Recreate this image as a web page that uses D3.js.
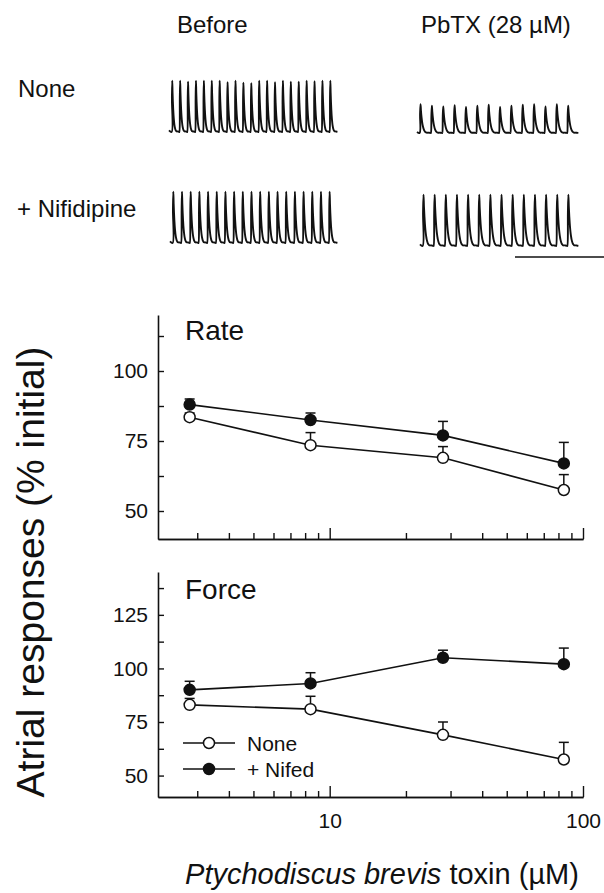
<!DOCTYPE html>
<html>
<head>
<meta charset="utf-8">
<script src="https://cdn.jsdelivr.net/npm/d3@7"></script>
<style>
  body { margin: 0; background: #fff; }
  svg text { font-family: "Liberation Sans", Arial, Helvetica, sans-serif; fill: #111; }
</style>
</head>
<body>
<script>
// concentrations (uM) and responses (% initial)
const conc = [2.8, 8.4, 28, 84];
const rateNone = [83.5, 73.5, 69, 57.5];
const rateNoneErr = [1.5, 4.5, 4, 5.5];
const rateNifed = [88, 82.5, 77, 67];
const rateNifedErr = [2, 2.5, 5, 7.5];
const forceNone = [83, 81, 69, 57.5];
const forceNoneErr = [3, 6, 6, 8];
const forceNifed = [90, 93, 105, 102];
const forceNifedErr = [4, 5, 3.5, 7.5];

const rateTickLabels = [50, 75, 100];
const forceTickLabels = [50, 75, 100, 125];
const xMajor = [10, 100];
const xMinor = [3, 4, 5, 6, 7, 8, 9, 20, 30, 40, 50, 60, 70, 80, 90];

// recorded traces: relative peak height of each beat
const traceNoneBefore = [1, 1, .98, 1, 1, 1, 1, .97, 1, .96, .95, 1, 1, .97, 1, .98, .98, 1, .99, 1, 1];
const traceNonePbtx = [.95, .9, .88, .92, .86, .9, .93, .86, .9, .93, .95, .88, .95, .9];
const traceNifBefore = [1, 1, 1, 1, 1, 1, 1, 1, 1, 1, 1, 1, 1, 1, 1, 1, 1, 1, 1];
const traceNifPbtx = [1, 1, 1, 1, 1, 1, 1, 1, 1, 1, 1, 1, 1, 1];

const width = 604, height = 893;
const svg = d3.select("body").append("svg")
  .attr("width", width)
  .attr("height", height);

// ---- top: traces
svg.append("text").attr("x", 177).attr("y", 33).style("font-size", "24px").text("Before");
svg.append("text").attr("x", 421).attr("y", 33).style("font-size", "24px").text("PbTX (28 µM)");
svg.append("text").attr("x", 18).attr("y", 97).style("font-size", "24px").text("None");
svg.append("text").attr("x", 17).attr("y", 217).style("font-size", "24px").text("+ Nifidipine");

function drawTrace(peaks, x0, x1, base, top) {
  const n = peaks.length;
  const tx = d3.scaleLinear().domain([0, n]).range([x0, x1]);
  const ty = d3.scaleLinear().domain([0, 1]).range([base, top]);
  const pts = [[tx(0) - 2, ty(0.03)]];
  peaks.forEach((p, i) => {
    // beat shape: fast upstroke, decay, rounded foot
    const steps = 24;
    for (let k = 0; k <= steps; k++) {
      const u = k / steps;
      let v;
      if (u < 0.07) v = p * (u / 0.07);
      else v = p * Math.exp(-(u - 0.07) / 0.16) - 0.03 * Math.sin(Math.PI * Math.min(1, (u - 0.07) / 0.7));
      pts.push([tx(i + u * 0.98) + 0.6, ty(v)]);
    }
  });
  svg.append("path")
    .attr("d", d3.line().curve(d3.curveCatmullRom)(pts))
    .attr("fill", "none")
    .attr("stroke", "#111")
    .attr("stroke-width", 1.9);
}

drawTrace(traceNoneBefore, 171, 337, 132, 76);
drawTrace(traceNonePbtx, 419, 578, 133, 100);
drawTrace(traceNifBefore, 172, 337, 243, 187);
drawTrace(traceNifPbtx, 422, 578, 246, 190);

svg.append("line").attr("x1", 515).attr("x2", 604).attr("y1", 257).attr("y2", 257)
  .attr("stroke", "#111").attr("stroke-width", 1.5);

// ---- plots
const x = d3.scaleLog().domain([2.1, 100]).range([158, 583]);

function yMinor(lo, hi) {
  const t = [];
  for (let v = lo; v <= hi; v += 12.5) t.push(v);
  return t;
}

function panel(opts) {
  const y = d3.scaleLinear().domain(opts.domain).range(opts.range);
  const g = svg.append("g");
  const bottom = opts.range[0];

  // y axis
  g.append("g")
    .attr("transform", "translate(158,0)")
    .call(d3.axisLeft(y)
      .tickValues(yMinor(50, opts.domain[1] - 5))
      .tickSize(-6).tickSizeOuter(0).tickPadding(10)
      .tickFormat(d => opts.labels.includes(d) ? d : ""))
    .call(a => a.selectAll("text").style("font-size", "21px").attr("fill", "#111"));

  // x axis minor + major
  g.append("g")
    .attr("transform", `translate(0,${bottom})`)
    .call(d3.axisBottom(x).tickValues(xMinor).tickSize(-6).tickSizeOuter(0).tickFormat(""));
  g.append("g")
    .attr("transform", `translate(0,${bottom})`)
    .call(d3.axisBottom(x).tickValues(xMajor).tickSize(-11).tickSizeOuter(0).tickPadding(16)
      .tickFormat(d => opts.xLabels ? d : ""))
    .call(a => a.selectAll("text").style("font-size", "21px").attr("fill", "#111"));

  g.selectAll(".domain").attr("stroke", "#111").attr("stroke-width", 1.6);
  g.selectAll(".tick line").attr("stroke", "#111").attr("stroke-width", 1.4);

  g.append("text").attr("x", 185).attr("y", opts.titleY)
    .style("font-size", "28px").text(opts.title);

  const line = d3.line().x((d, i) => x(conc[i])).y(d => y(d));
  const series = [
    { v: opts.none, e: opts.noneErr, fill: "#fff" },
    { v: opts.nifed, e: opts.nifedErr, fill: "#111" }
  ];
  series.forEach(s => {
    g.append("path").attr("d", line(s.v))
      .attr("fill", "none").attr("stroke", "#111").attr("stroke-width", 1.6);
  });
  series.forEach(s => {
    const eb = g.append("g").attr("stroke", "#111").attr("stroke-width", 1.5);
    s.v.forEach((v, i) => {
      const cx = x(conc[i]), top = y(v + s.e[i]);
      eb.append("line").attr("x1", cx).attr("x2", cx).attr("y1", y(v)).attr("y2", top);
      eb.append("line").attr("x1", cx - 5).attr("x2", cx + 5).attr("y1", top).attr("y2", top);
    });
  });
  series.forEach(s => {
    g.selectAll(null).data(s.v).join("circle")
      .attr("cx", (d, i) => x(conc[i])).attr("cy", d => y(d)).attr("r", 5.5)
      .attr("fill", s.fill).attr("stroke", "#111").attr("stroke-width", 1.5);
  });
}

panel({
  title: "Rate", titleY: 340, domain: [40, 120], range: [539, 315],
  labels: rateTickLabels, xLabels: false,
  none: rateNone, noneErr: rateNoneErr, nifed: rateNifed, nifedErr: rateNifedErr
});
panel({
  title: "Force", titleY: 599, domain: [40, 145], range: [797, 572],
  labels: forceTickLabels, xLabels: true,
  none: forceNone, noneErr: forceNoneErr, nifed: forceNifed, nifedErr: forceNifedErr
});

// legend
const legend = [
  { name: "None", fill: "#fff", y: 743 },
  { name: "+ Nifed", fill: "#111", y: 769 }
];
legend.forEach(l => {
  svg.append("line").attr("x1", 183).attr("x2", 235).attr("y1", l.y).attr("y2", l.y)
    .attr("stroke", "#111").attr("stroke-width", 1.6);
  svg.append("circle").attr("cx", 209).attr("cy", l.y).attr("r", 5.5)
    .attr("fill", l.fill).attr("stroke", "#111").attr("stroke-width", 1.5);
  svg.append("text").attr("x", 247).attr("y", l.y + 7.5).style("font-size", "21px").text(l.name);
});

// axis titles
svg.append("text")
  .attr("transform", "translate(44,572) rotate(-90)")
  .attr("text-anchor", "middle")
  .style("font-size", "39px")
  .text("Atrial responses (% initial)");

const xt = svg.append("text").attr("x", 382).attr("y", 884)
  .attr("text-anchor", "middle").style("font-size", "29px");
xt.append("tspan").style("font-style", "italic").text("Ptychodiscus brevis");
xt.append("tspan").text(" toxin (µM)");
</script>
</body>
</html>
